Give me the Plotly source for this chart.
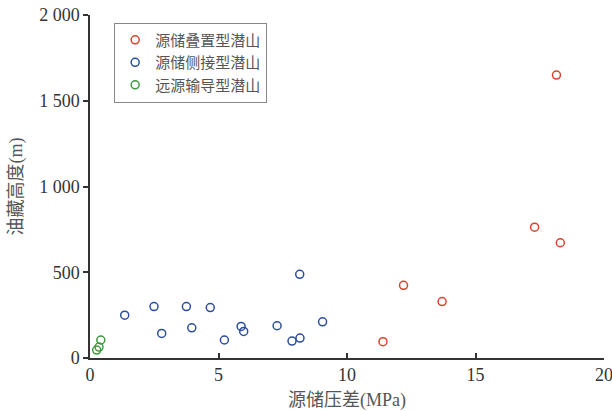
import plotly.graph_objects as go

# Data
red_x = [11.4, 12.2, 13.7, 17.3, 18.3, 18.15]
red_y = [95, 424, 329, 763, 672, 1650]

blue_x = [1.35, 2.49, 2.79, 3.75, 3.96, 4.68, 5.23, 5.88, 5.98, 7.28, 7.86, 8.17, 8.16, 9.05]
blue_y = [250, 300, 143, 300, 176, 294, 105, 184, 155, 188, 99, 116, 488, 211]

green_x = [0.42, 0.35, 0.26]
green_y = [105, 64, 46]

names = ["源储叠置型潜山", "源储侧接型潜山", "远源输导型潜山"]
colors = ["#d8432c", "#2b4d9e", "#3b9c3b"]

x_ticks = [0, 5, 10, 15, 20]
y_ticks = [0, 500, 1000, 1500, 2000]
y_ticktext = ["0", "500", "1 000", "1 500", "2 000"]

SERIF = "'Liberation Serif', 'Times New Roman', 'Noto Sans CJK SC', serif"

fig = go.Figure()
for xs, ys, n, c in zip([red_x, blue_x, green_x], [red_y, blue_y, green_y], names, colors):
    fig.add_trace(go.Scatter(
        x=xs, y=ys, mode="markers", name=n,
        marker=dict(symbol="circle-open", size=8, color=c, line=dict(width=1.5, color=c)),
        cliponaxis=False,
    ))

fig.update_layout(
    width=612, height=411,
    margin=dict(l=90, r=8, t=15, b=53),
    paper_bgcolor="white", plot_bgcolor="white",
    showlegend=True,
    legend=dict(
        x=0.047, y=0.978, xanchor="left", yanchor="top",
        bordercolor="#888888", borderwidth=1, bgcolor="white",
        font=dict(family="Noto Sans CJK SC", size=15, color="#555555"),
        tracegroupgap=0,
    ),
)
fig.update_xaxes(
    range=[0, 20], tickvals=x_ticks, ticktext=[str(v) for v in x_ticks],
    showgrid=False, zeroline=False, showline=True, linecolor="#333333", linewidth=1.5,
    ticks="inside", ticklen=5, tickcolor="#333333", tickwidth=1.5,
    ticklabeloverflow="allow", automargin=False,
    tickfont=dict(family=SERIF, size=18, color="#333333"),
    title=dict(text="源储压差(MPa)", font=dict(family=SERIF, size=18, color="#555555"), standoff=12),
)
fig.update_yaxes(
    range=[0, 2000], tickvals=y_ticks, ticktext=y_ticktext,
    showgrid=False, zeroline=False, showline=True, linecolor="#333333", linewidth=1.5,
    ticks="outside", ticklen=5, tickcolor="#333333", tickwidth=1.5,
    automargin=False,
    tickfont=dict(family=SERIF, size=18, color="#333333"),
    title=dict(text="油藏高度(m)", font=dict(family=SERIF, size=18, color="#555555"), standoff=12),
)

fig.write_html("out.html")
